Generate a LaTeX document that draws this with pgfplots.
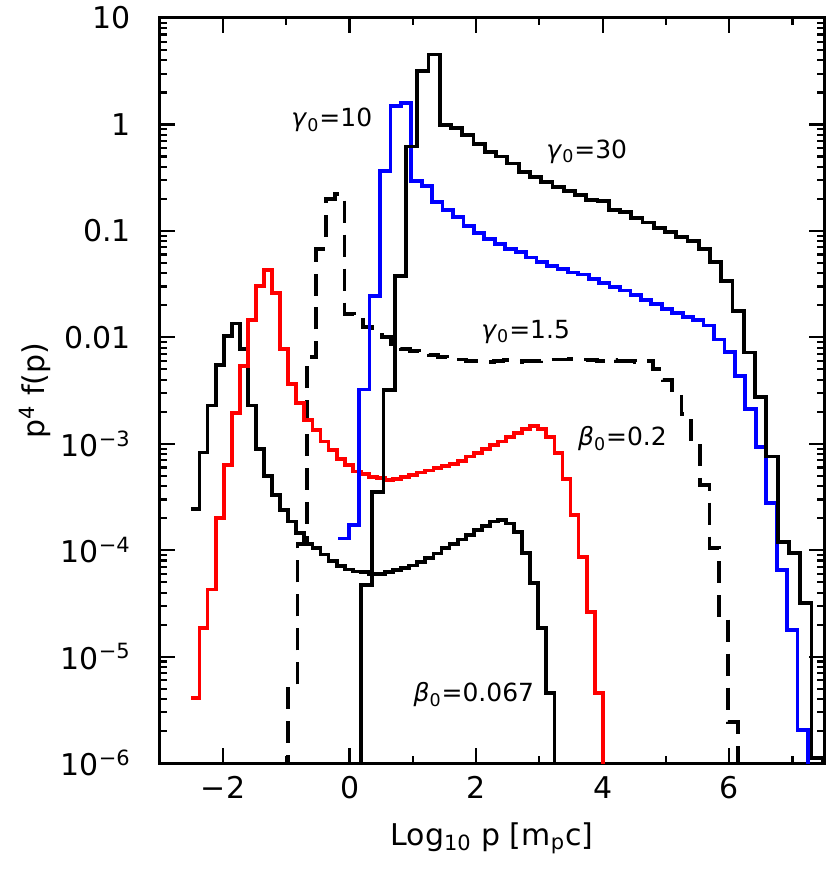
\documentclass[border=0pt]{standalone}
\usepackage{fontspec}
\setmainfont{DejaVu Sans}
\usepackage{pgfplots}
\pgfplotsset{compat=1.18}
\begin{document}
\begin{tikzpicture}
\begin{axis}[
  scale only axis,
  width=332.5pt, height=373pt,
  xmin=-3, xmax=7.5,
  ymode=log, ymin=1e-6, ymax=10,
  xtick={-2,0,2,4,6},
  xticklabels={−2,0,2,4,6},
  minor xtick={-3,-1,1,3,5,7},
  ytick={1e-6,1e-5,1e-4,1e-3,1e-2,1e-1,1,10},
  yticklabels={10\textsuperscript{−6},10\textsuperscript{−5},10\textsuperscript{−4},10\textsuperscript{−3},0.01,0.1,1,10},
  minor ytick={2e-6,3e-6,4e-6,5e-6,6e-6,7e-6,8e-6,9e-6,
    2e-5,3e-5,4e-5,5e-5,6e-5,7e-5,8e-5,9e-5,
    2e-4,3e-4,4e-4,5e-4,6e-4,7e-4,8e-4,9e-4,
    2e-3,3e-3,4e-3,5e-3,6e-3,7e-3,8e-3,9e-3,
    0.02,0.03,0.04,0.05,0.06,0.07,0.08,0.09,
    0.2,0.3,0.4,0.5,0.6,0.7,0.8,0.9,
    2,3,4,5,6,7,8,9},
  tick align=inside,
  major tick length=7.5pt,
  minor tick length=3.5pt,
  every tick/.style={black, line width=1.1pt},
  axis line style={line width=1.5pt},
  tick label style={font=\fontsize{15}{18}\selectfont},
  xticklabel style={yshift=-3pt},
  yticklabel style={xshift=-11pt},
  label style={font=\fontsize{15}{18}\selectfont},
  xlabel={Log\textsubscript{10} p [m\textsubscript{p}c]},
  ylabel={p\textsuperscript{4} f(p)},
  xlabel style={at={(axis description cs:0.5,-0.1005)}, anchor=center},
  ylabel style={at={(axis description cs:-0.188,0.5)}, anchor=center},
  every axis plot/.append style={const plot mark left, line width=1.9pt, mark=none},
]
\coordinate (ll) at (rel axis cs:0,0);
\coordinate (ur) at (rel axis cs:1,1);

% gamma0 = 1.5 (dashed)
\addplot[black, dash pattern=on 11pt off 6pt] table {
x y
-0.970 1e-9
-0.970 5.0e-6
-0.822 1.15e-4
-0.674 6.5e-3
-0.526 0.068
-0.378 0.20
-0.230 0.221
-0.082 0.0166
0.066 0.0158
0.214 0.0126
0.362 0.0110
0.510 0.0100
0.658 0.0081
0.806 0.0078
0.954 0.0074
1.102 0.0071
1.250 0.0068
1.398 0.0065
1.546 0.0063
1.694 0.0062
1.842 0.0060
1.990 0.0060
2.138 0.0059
2.286 0.0060
2.434 0.0061
2.582 0.0059
2.730 0.0060
2.878 0.0060
3.026 0.0061
3.174 0.0062
3.322 0.0062
3.470 0.0063
3.618 0.0062
3.766 0.0061
3.914 0.0060
4.062 0.0061
4.210 0.0060
4.358 0.0060
4.506 0.0059
4.654 0.0060
4.802 0.0050
4.950 0.0040
5.098 0.0032
5.246 0.0019
5.394 1.05e-3
5.542 4.1e-4
5.690 1.05e-4
5.838 2.24e-5
5.986 2.45e-6
6.134 2.45e-6
6.134 1e-9
};

% beta0 = 0.067 (black)
\addplot[black] table {
x y
-2.5000 2.45e-4
-2.3725 8.3e-4
-2.2450 2.29e-3
-2.1175 5.5e-3
-1.9900 0.01035
-1.8625 0.0135
-1.7350 7.76e-3
-1.6075 2.29e-3
-1.4800 8.9e-4
-1.3525 5.0e-4
-1.2250 3.31e-4
-1.0975 2.40e-4
-0.9700 1.86e-4
-0.8425 1.45e-4
-0.7150 1.15e-4
-0.5875 1.05e-4
-0.4600 9.1e-5
-0.3325 7.9e-5
-0.2050 7.1e-5
-0.0775 6.6e-5
0.0500 6.3e-5
0.1775 6.2e-5
0.3050 6.0e-5
0.4325 6.0e-5
0.5600 6.2e-5
0.6875 6.5e-5
0.8150 6.8e-5
0.9425 7.2e-5
1.0700 7.8e-5
1.1975 8.5e-5
1.3250 9.3e-5
1.4525 1.05e-4
1.5800 1.15e-4
1.7075 1.26e-4
1.8350 1.38e-4
1.9625 1.55e-4
2.0900 1.70e-4
2.2175 1.86e-4
2.3450 1.91e-4
2.4725 1.78e-4
2.6000 1.48e-4
2.7275 9.5e-5
2.8550 4.9e-5
2.9825 1.86e-5
3.1100 4.57e-6
3.2375 4.57e-6
3.2375 1e-9
};

% beta0 = 0.2 (red)
\addplot[red] table {
x y
-2.5000 4.07e-6
-2.3725 1.86e-5
-2.2450 4.27e-5
-2.1175 2.0e-4
-1.9900 6.3e-4
-1.8625 1.95e-3
-1.7350 5.37e-3
-1.6075 0.0145
-1.4800 0.0302
-1.3525 0.0427
-1.2250 0.0263
-1.0975 7.76e-3
-0.9700 3.63e-3
-0.8425 2.40e-3
-0.7150 1.66e-3
-0.5875 1.35e-3
-0.4600 1.05e-3
-0.3325 8.7e-4
-0.2050 7.24e-4
-0.0775 6.3e-4
0.0500 5.5e-4
0.1775 5.2e-4
0.3050 4.9e-4
0.4325 4.79e-4
0.5600 4.57e-4
0.6875 4.68e-4
0.8150 4.90e-4
0.9425 5.13e-4
1.0700 5.37e-4
1.1975 5.62e-4
1.3250 5.89e-4
1.4525 6.17e-4
1.5800 6.46e-4
1.7075 6.92e-4
1.8350 7.59e-4
1.9625 8.13e-4
2.0900 8.91e-4
2.2175 9.77e-4
2.3450 1.05e-3
2.4725 1.15e-3
2.6000 1.26e-3
2.7275 1.38e-3
2.8550 1.48e-3
2.9825 1.38e-3
3.1100 1.15e-3
3.2375 8.13e-4
3.3650 4.68e-4
3.4925 2.14e-4
3.6200 8.7e-5
3.7475 2.63e-5
3.8750 4.57e-6
4.0025 4.57e-6
4.0025 1e-9
};

% gamma0 = 10 (blue)
\addplot[blue] table {
x y
-0.180 1.29e-4
-0.015 1.74e-4
0.150 3.24e-3
0.315 0.0245
0.480 0.363
0.645 1.48
0.810 1.58
0.975 0.295
1.140 0.263
1.305 0.186
1.470 0.158
1.635 0.135
1.800 0.112
1.965 0.0955
2.130 0.0832
2.295 0.075
2.460 0.0676
2.625 0.0631
2.790 0.0562
2.955 0.0513
3.120 0.0468
3.285 0.0437
3.450 0.0407
3.615 0.0389
3.780 0.0355
3.945 0.0324
4.110 0.0295
4.275 0.0275
4.440 0.0251
4.605 0.0224
4.770 0.0204
4.935 0.0186
5.100 0.0170
5.265 0.0155
5.430 0.0145
5.595 0.0129
5.760 0.00955
5.925 0.00724
6.090 0.00437
6.255 0.00214
6.420 9.3e-4
6.585 2.8e-4
6.750 6.5e-5
6.915 1.78e-5
7.080 2.04e-6
7.245 2.04e-6
7.245 1e-9
};

% gamma0 = 30 (black)
\addplot[black] table {
x y
0.180 1e-9
0.180 4.7e-5
0.358 3.5e-4
0.536 3.2e-3
0.714 0.038
0.892 0.62
1.070 3.16
1.248 4.53
1.426 0.98
1.604 0.93
1.782 0.79
1.960 0.65
2.138 0.55
2.316 0.50
2.494 0.43
2.672 0.36
2.850 0.32
3.028 0.29
3.206 0.26
3.384 0.237
3.562 0.219
3.740 0.195
3.918 0.19
4.096 0.158
4.274 0.151
4.452 0.132
4.630 0.120
4.808 0.107
4.986 0.098
5.164 0.087
5.342 0.081
5.520 0.068
5.698 0.051
5.876 0.034
6.054 0.0178
6.232 0.0072
6.410 0.00275
6.588 7.6e-4
6.766 1.2e-4
6.944 9.5e-5
7.122 3.2e-5
7.300 1.12e-6
7.478 1.12e-6
7.478 1e-9
};

\node[anchor=base west, font=\fontsize{12.5}{14}\selectfont] at (axis cs:-1.03,0.96) {\textit{γ}\textsubscript{0}=10};
\node[anchor=base west, font=\fontsize{12.5}{14}\selectfont] at (axis cs:3.0,0.483) {\textit{γ}\textsubscript{0}=30};
\node[anchor=base west, font=\fontsize{12.5}{14}\selectfont] at (axis cs:1.97,0.0098) {\textit{γ}\textsubscript{0}=1.5};
\node[anchor=base west, font=\fontsize{12.5}{14}\selectfont] at (axis cs:3.5,9.66e-4) {\textit{β}\textsubscript{0}=0.2};
\node[anchor=base west, font=\fontsize{12.5}{14}\selectfont] at (axis cs:0.90,3.8e-6) {\textit{β}\textsubscript{0}=0.067};
\end{axis}
\path ([shift={(-80pt,-55.5pt)}]ll) rectangle ([shift={(2.5pt,8.5pt)}]ur);
\end{tikzpicture}
\end{document}
